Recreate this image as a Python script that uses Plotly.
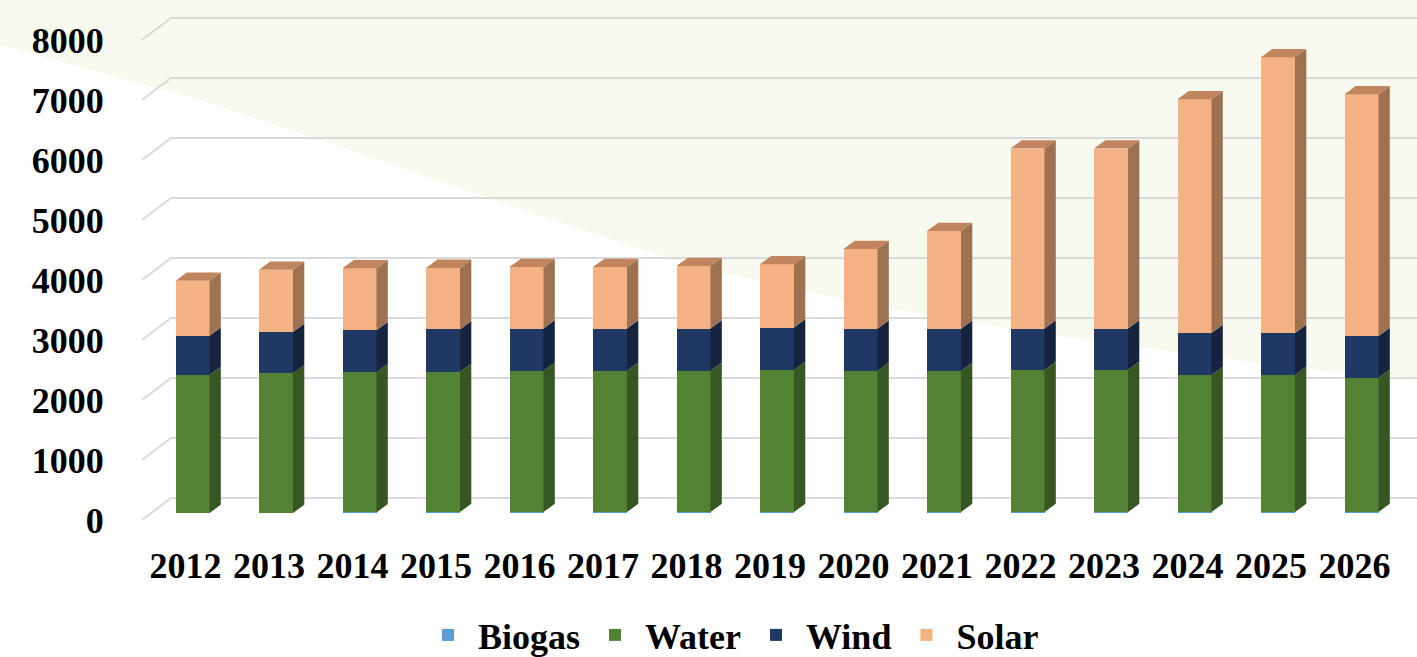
import numpy as np
import plotly.graph_objects as go

# ---------------- data ----------------
years = ["2012", "2013", "2014", "2015", "2016", "2017", "2018", "2019",
         "2020", "2021", "2022", "2023", "2024", "2025", "2026"]
biogas = [0, 0, 10, 15, 15, 15, 15, 15, 15, 15, 15, 15, 15, 15, 15]
water = [2300, 2330, 2335, 2340, 2355, 2355, 2355, 2370, 2355, 2355, 2370, 2370, 2285, 2285, 2240]
wind = [655, 685, 700, 705, 705, 705, 705, 705, 700, 700, 690, 690, 700, 700, 695]
solar = [915, 1040, 1035, 1025, 1025, 1025, 1040, 1055, 1330, 1630, 3000, 3000, 3895, 4595, 4030]
y_ticks = [0, 1000, 2000, 3000, 4000, 5000, 6000, 7000, 8000]

series = [
    ("Biogas", biogas, "#5b9bd5", "#3d6f9c"),
    ("Water", water, "#548235", "#365622"),
    ("Wind", wind, "#203864", "#15233f"),
    ("Solar", solar, "#f4b183", "#9e7150"),
]
SOLAR_TOP = "#c0855f"

# ---------------- geometry (pixel layout) ----------------
W_FIG, H_FIG = 1417, 657
L, R, T, B = 142, 0, 0, 127
plot_w = W_FIG - L - R
plot_h = H_FIG - T - B
px_per_cat = 83.5
px_per_unit = 0.06  # pixels per value unit
x0 = -(192.5 - L) / px_per_cat
x1 = x0 + plot_w / px_per_cat
y0 = -((T + plot_h) - 513) / px_per_unit
y1 = y0 + plot_h / px_per_unit

BAR_W = 34 / px_per_cat
DX = 11.3 / px_per_cat
DY = 8.3 / px_per_unit
FRONT_OFF = -7 / px_per_unit   # floor front edge relative to bar base
BACK_OFF = 15 / px_per_unit    # back wall relative to bar base
SLANT_DX = 29 / px_per_cat
LABEL_DX = -7 / px_per_cat     # category labels sit on the front floor edge

xs = np.arange(len(years))

fig = go.Figure()

# front faces
for name, vals, col, _ in series:
    fig.add_trace(go.Bar(
        x=xs, y=vals, name=name, width=BAR_W,
        marker=dict(color=col, line=dict(width=0)),
        hoverinfo="skip",
    ))

# side faces and top faces (3D look), computed from the stacked data
cum = np.zeros(len(years))
for name, vals, col, side in series:
    v = np.array(vals, dtype=float)
    px_list, py_list = [], []
    for i, xc in enumerate(xs):
        if v[i] <= 0:
            continue
        xr = xc + BAR_W / 2
        a, b = cum[i], cum[i] + v[i]
        px_list += [xr, xr + DX, xr + DX, xr, xr, None]
        py_list += [a, a + DY, b + DY, b, a, None]
    fig.add_trace(go.Scatter(
        x=px_list, y=py_list, mode="lines", fill="toself",
        fillcolor=side, line=dict(width=0, color=side),
        hoverinfo="skip", showlegend=False,
    ))
    cum = cum + v

tx, ty = [], []
for i, xc in enumerate(xs):
    xl, xr = xc - BAR_W / 2, xc + BAR_W / 2
    top = cum[i]
    tx += [xl, xl + DX, xr + DX, xr, xl, None]
    ty += [top, top + DY, top + DY, top, top, None]
fig.add_trace(go.Scatter(
    x=tx, y=ty, mode="lines", fill="toself", fillcolor=SOLAR_TOP,
    line=dict(width=0, color=SOLAR_TOP), hoverinfo="skip", showlegend=False,
))

# ---------------- background decoration ----------------
def pp(x, y):
    return (x - L) / plot_w, (T + plot_h - y) / plot_h

outline = [(-5, -5), (1422, -5), (1422, 382), (1250, 362), (1050, 335),
           (870, 305), (700, 268), (600, 236), (470, 192), (350, 150),
           (200, 100), (0, 45)]
pts = [pp(*q) for q in outline]
swoosh = "M " + " L ".join(f"{a},{b}" for a, b in pts) + " Z"
shapes = [dict(type="path", xref="paper", yref="paper", path=swoosh,
               fillcolor="#f8faef", line=dict(width=0), layer="below")]

# gridlines on the back wall with slanted floor/side edge
for v in y_ticks:
    shapes.append(dict(
        type="path", xref="x", yref="y", layer="below",
        path=(f"M {x0},{v + FRONT_OFF} L {x0 + SLANT_DX},{v + BACK_OFF} "
              f"L {x1},{v + BACK_OFF}"),
        line=dict(color="#d9d9d9", width=2),
    ))

font_fam = "Liberation Serif, Times New Roman, serif"
fig.update_layout(
    width=W_FIG, height=H_FIG, autosize=False,
    margin=dict(l=L, r=R, t=T, b=B, pad=0, autoexpand=False),
    barmode="stack",
    paper_bgcolor="white", plot_bgcolor="rgba(0,0,0,0)",
    shapes=shapes,
    showlegend=True,
    legend=dict(orientation="h", x=(731 - L) / plot_w, xanchor="center",
                y=(T + plot_h - 635) / plot_h, yanchor="middle",
                font=dict(family=font_fam, size=36, color="black", weight="bold"),
                bgcolor="rgba(0,0,0,0)", traceorder="normal", itemwidth=50),
    hovermode=False,
    font=dict(family=font_fam, color="black"),
)
fig.update_xaxes(
    range=[x0, x1], tickmode="array", tickvals=xs + LABEL_DX, ticktext=years,
    showgrid=False, zeroline=False, showline=False, automargin=False,
    ticks="outside", ticklen=4, tickcolor="rgba(0,0,0,0)",
    tickfont=dict(family=font_fam, size=36, color="black", weight="bold"),
)
fig.update_yaxes(
    range=[y0, y1], tickmode="array",
    tickvals=[t + FRONT_OFF for t in y_ticks],
    ticktext=[str(t) for t in y_ticks],
    showgrid=False, zeroline=False, showline=False, automargin=False,
    ticks="outside", ticklen=30, tickcolor="rgba(0,0,0,0)",
    tickfont=dict(family=font_fam, size=36, color="black", weight="bold"),
)

fig.write_html(
    "out.html",
    config={"displayModeBar": False, "staticPlot": True},
    post_script="document.body.style.margin='0px';document.body.style.overflow='hidden';",
)
